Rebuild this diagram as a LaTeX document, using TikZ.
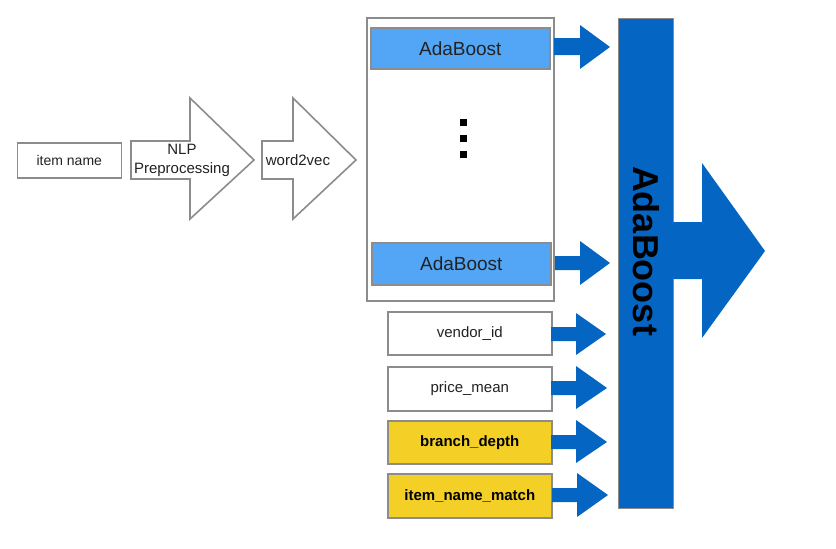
\documentclass[tikz,border=0pt]{standalone}
\usepackage{fontspec}
\setmainfont{Liberation Sans}
\definecolor{bordergray}{HTML}{8C8C8C}
\definecolor{lightblue}{HTML}{53A6F5}
\definecolor{darkblue}{HTML}{0565C2}
\definecolor{featyellow}{HTML}{F4D027}
\definecolor{txt}{HTML}{222222}
\begin{document}
\begin{tikzpicture}[x=1pt,y=-1pt,
  box/.style={draw=bordergray, line width=1.6pt, fill=white, text=txt, inner sep=0pt,
    font=\fontsize{15}{17}\selectfont, anchor=north west},
  adabox/.style={box, fill=lightblue, font=\fontsize{19}{21}\selectfont},
  featbox/.style={box, fill=featyellow, font=\bfseries\fontsize{15}{17}\selectfont, text=black},
  outlinearrow/.style={draw=bordergray, line width=1.6pt, fill=white, line join=miter},
  bluearrow/.style={fill=darkblue, draw=none},
  lbl/.style={text=txt, inner sep=0pt, font=\fontsize{15}{17}\selectfont}
]
\useasboundingbox (0,0) rectangle (836,549);

% left input box
\node[box, minimum width=104pt, minimum height=35pt, font=\fontsize{14}{16}\selectfont] (item) at (16.5,142) {item name};

% NLP preprocessing block arrow
\draw[outlinearrow] (131,141) -- (190,141) -- (190,98) -- (254,160) -- (190,219) -- (190,179) -- (131,179) -- cycle;
\node[lbl, align=center] (nlp) at (182,160) {NLP\\[2pt]Preprocessing};

% word2vec block arrow
\draw[outlinearrow] (262,141) -- (293,141) -- (293,98) -- (356,160) -- (293,219) -- (293,179) -- (262,179) -- cycle;
\node[lbl] (w2v) at (298,160) {word2vec};

% container
\node[draw=bordergray, line width=1.6pt, fill=white, minimum width=187pt, minimum height=283pt, anchor=north west, inner sep=0pt] (cont) at (366,17) {};

% AdaBoost boxes
\node[adabox, minimum width=179pt, minimum height=41pt] (ada1) at (370,27) {AdaBoost};
\node[adabox, minimum width=179pt, minimum height=42pt] (ada2) at (371,242) {AdaBoost};

% vertical dots
\foreach \yy/\nm in {122/d1,138/d2,154/d3}
  \node[fill=black, minimum size=7pt, inner sep=0pt] (\nm) at (463,\yy) {};

% feature boxes
\node[box, minimum width=164pt, minimum height=43pt] (vend) at (387,311) {vendor\_id};
\node[box, minimum width=164pt, minimum height=44pt] (price) at (387,366) {price\_mean};
\node[featbox, minimum width=164pt, minimum height=43pt] (branch) at (387,420) {branch\_depth};
\node[featbox, minimum width=164pt, minimum height=44pt] (match) at (387,473) {item\_name\_match};

% small blue arrows
\draw[bluearrow] (554,38) -- (580,38) -- (580,25) -- (610,47) -- (580,69) -- (580,55) -- (554,55) -- cycle;
\draw[bluearrow] (555,256) -- (580,256) -- (580,241) -- (610,263) -- (580,285) -- (580,270) -- (555,270) -- cycle;
\draw[bluearrow] (551,327) -- (576,327) -- (576,313) -- (606,334) -- (576,355) -- (576,341) -- (551,341) -- cycle;
\draw[bluearrow] (551,381) -- (576,381) -- (576,366) -- (607,388) -- (576,409) -- (576,395) -- (551,395) -- cycle;
\draw[bluearrow] (551,435) -- (576,435) -- (576,420) -- (607,442) -- (576,463) -- (576,449) -- (551,449) -- cycle;
\draw[bluearrow] (552,488) -- (577,488) -- (577,473) -- (608,495) -- (577,517) -- (577,502) -- (552,502) -- cycle;

% big AdaBoost bar
\node[draw=bordergray, line width=0.6pt, fill=darkblue, minimum width=55pt, minimum height=490pt, anchor=north west, inner sep=0pt] (big) at (618,18) {};
\draw[bluearrow] (673,222) -- (702,222) -- (702,163) -- (765,251) -- (702,338) -- (702,279) -- (673,279) -- cycle;
\node[rotate=-90, font=\bfseries\fontsize{36}{40}\selectfont, text=black, inner sep=0pt] (bigtxt) at (646,251) {AdaBoost};
\end{tikzpicture}
\end{document}
